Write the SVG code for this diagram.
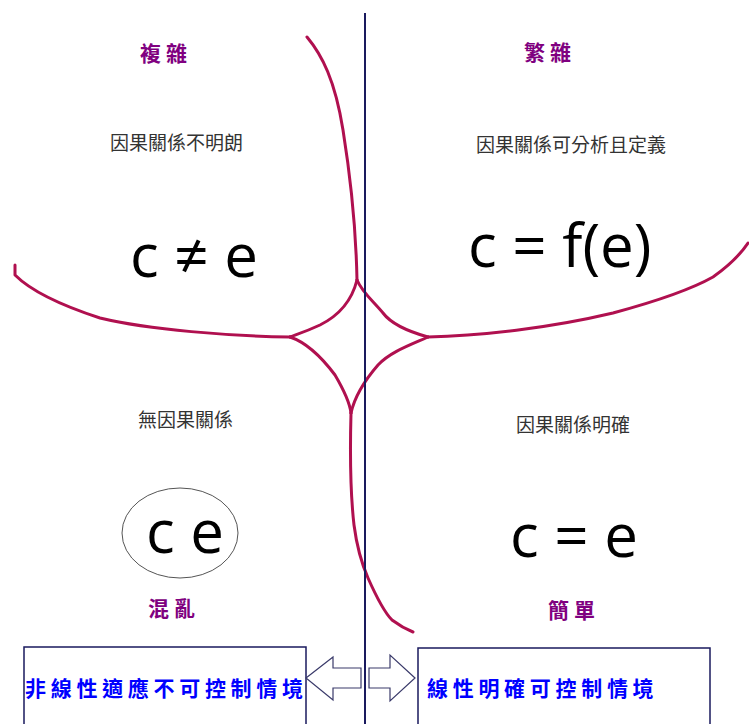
<svg xmlns="http://www.w3.org/2000/svg" width="749" height="724" viewBox="0 0 749 724">
<style>
.crv{fill:none;stroke:#b0104f;stroke-width:3;stroke-linecap:round;stroke-linejoin:round}
.ttl{font-family:"Noto Sans CJK TC","Noto Sans CJK SC",sans-serif;font-size:21px;font-weight:bold;fill:#800080;letter-spacing:5px}
.sub{font-family:"Noto Sans CJK TC","Noto Sans CJK SC",sans-serif;font-size:19px;fill:#333333}
.eq{font-family:"Open Sans","DejaVu Sans",sans-serif;font-size:60px;fill:#000000}
.box{fill:#ffffff;stroke:#1a1a5e;stroke-width:1.5}
.btx{font-family:"Noto Sans CJK TC","Noto Sans CJK SC",sans-serif;font-size:21px;font-weight:bold;fill:#0000ff;letter-spacing:4.7px}
.arr{fill:#ffffff;stroke:#3a3a6a;stroke-width:1.2;stroke-linejoin:miter}
</style>
<rect width="749" height="724" fill="#ffffff"/>
<g id="connectors">
<path class="crv" d="M307,37 C322,55 335,80 343,130 C351,180 356,230 357,280"/>
<path class="crv" d="M357,280 C352,300 340,315 320,325 C305,332 295,335 290,337"/>
<path class="crv" d="M357,280 C362,292 372,300 383,313 C392,325 410,332 428,337"/>
<path class="crv" d="M15,265 L15,275 C30,290 60,305 100,318 C150,330 230,336 290,337"/>
<path class="crv" d="M428,337 C480,336 550,328 613,313 C650,303 690,290 713,277 C730,265 740,255 748,243"/>
<path class="crv" d="M290,337 C305,342 320,355 335,375 C345,392 350,405 351,413"/>
<path class="crv" d="M428,337 C410,345 390,352 378,365 C365,380 355,395 351,413"/>
<path class="crv" d="M351,413 C350,450 350,490 354,525 C357,548 361,562 368,578 C376,596 384,612 392,620 C400,626 408,630 413,632"/>
<line x1="365" y1="13" x2="365" y2="724" stroke="#1a1a5e" stroke-width="2"/>
</g>
<g id="complex">
<text class="ttl" x="140" y="61">複雜</text>
<text class="sub" x="110" y="150">因果關係不明朗</text>
<text class="eq" x="130" y="277">c ≠ e</text>
</g>
<g id="complicated">
<text class="ttl" x="524" y="60">繁雜</text>
<text class="sub" x="476" y="152">因果關係可分析且定義</text>
<text class="eq" x="468" y="267">c = f(e)</text>
</g>
<g id="chaos">
<text class="sub" x="138" y="427">無因果關係</text>
<ellipse cx="180" cy="533" rx="58" ry="45" fill="none" stroke="#555555" stroke-width="1"/>
<text class="eq" x="146" y="553">c e</text>
<text class="ttl" x="148" y="616">混亂</text>
</g>
<g id="simple">
<text class="sub" x="516" y="432">因果關係明確</text>
<text class="eq" x="510" y="557">c = e</text>
<text class="ttl" x="548" y="618">簡單</text>
</g>
<g id="left-box">
<rect class="box" x="24" y="647" width="282" height="90"/>
<text class="btx" x="25" y="696">非線性適應不可控制情境</text>
</g>
<g id="right-box">
<rect class="box" x="418" y="648" width="292" height="90"/>
<text class="btx" x="427" y="696">線性明確可控制情境</text>
</g>
<g id="left-arrow">
<polygon class="arr" points="306,678 333,657 333,668 361,668 361,688 333,688 333,700"/>
</g>
<g id="right-arrow">
<polygon class="arr" points="415,678 390,655 390,668 369,668 369,688 390,688 390,701"/>
</g>
</svg>
